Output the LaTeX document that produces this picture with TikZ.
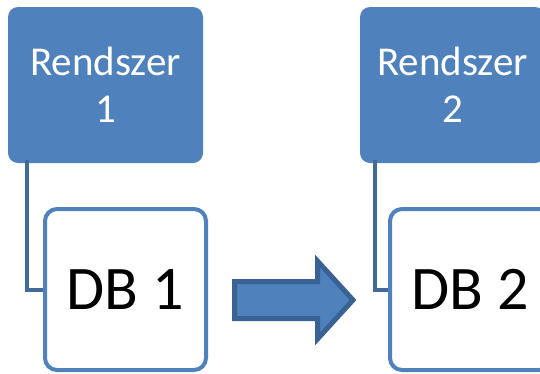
\documentclass[tikz,border=0pt]{standalone}
\usepackage{fontspec}
\setmainfont{Carlito}
\definecolor{ofblue}{HTML}{4F81BD}
\definecolor{ofdark}{HTML}{3A6193}
\definecolor{ofconn}{HTML}{41699A}
\begin{document}
\begin{tikzpicture}[x=1pt,y=-1pt,
  sysbox/.style={fill=ofblue,draw=none,rounded corners=10pt,minimum width=195pt,minimum height=156pt,
    text=white,align=center,font=\fontsize{41}{47}\selectfont,inner sep=0pt},
  dbbox/.style={draw=ofblue,fill=white,line width=4pt,rounded corners=12pt,minimum width=161pt,minimum height=161pt,
    font=\fontsize{62}{70}\selectfont,inner sep=0pt},
  conn/.style={draw=ofconn,line width=4pt},
  bigarrow/.style={fill=ofblue,draw=ofdark,line width=5pt,line join=miter}]
\useasboundingbox (0,0) rectangle (540,373);
\clip (0,0) rectangle (540,373);
\node[sysbox] (s1) at (105.5,85) {Rendszer\\1};
\node[sysbox,minimum width=185pt] (s2) at (452.5,85) {Rendszer\\2};
\node[dbbox] (d1) at (125.5,289.5) {DB 1};
\node[dbbox] (d2) at (470.5,289.5) {DB 2};
\coordinate (c1) at (27,160);
\coordinate (c2) at (375,160);
\draw[conn] (c1) |- (d1.west);
\draw[conn] (c2) |- (d2.west);
\draw[bigarrow] (234.5,281.5) -- (317.5,281.5) -- (317.5,261) -- (353,300) -- (317.5,339) -- (317.5,318.5) -- (234.5,318.5) -- cycle;
\end{tikzpicture}
\end{document}
